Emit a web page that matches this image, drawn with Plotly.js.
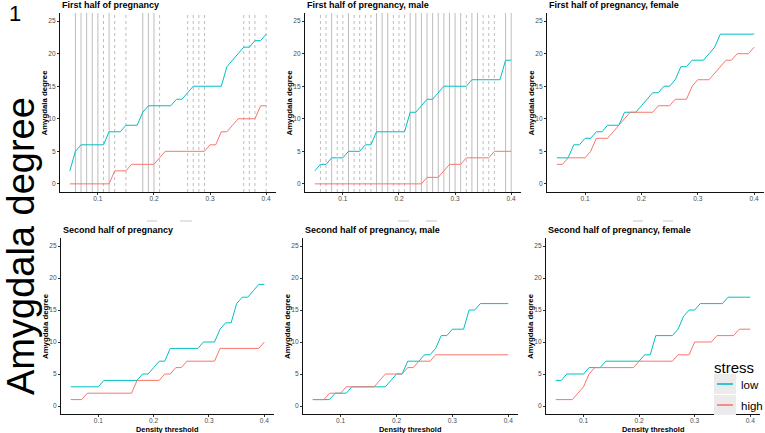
<!DOCTYPE html>
<html>
<head>
<meta charset="utf-8">
<script src="https://cdn.plot.ly/plotly-3.0.1.min.js"></script>
<style>
  html, body { margin: 0; padding: 0; background: #fff; }
  #plot { width: 765px; height: 433px; }
</style>
</head>
<body>
<div id="plot"></div>
<script>
// density thresholds (x) shared by every panel
const threshold = [0.05, 0.06, 0.07, 0.08, 0.09, 0.10, 0.11, 0.12, 0.13, 0.14, 0.15, 0.16,
                   0.17, 0.18, 0.19, 0.20, 0.21, 0.22, 0.23, 0.24, 0.25, 0.26, 0.27, 0.28,
                   0.29, 0.30, 0.31, 0.32, 0.33, 0.34, 0.35, 0.36, 0.37, 0.38, 0.39, 0.40];

const panelTitles = ["First half of pregnancy", "First half of pregnancy, male", "First half of pregnancy, female",
                     "Second half of pregnancy", "Second half of pregnancy, male", "Second half of pregnancy, female"];

// amygdala degree, low stress
const firstLow = [2,5,6,6,6,6,6,8,8,8,9,9,9,11,12,12,12,12,12,13,13,14,15,15,15,15,15,15,18,19,20,21,21,22,22,23];
const firstMaleLow = [2,3,3,4,4,4,5,5,5,6,6,8,8,8,8,8,8,11,11,12,13,13,14,15,15,15,15,15,16,16,16,16,16,16,19,19];
const firstFemaleLow = [4,4,4,6,6,7,7,8,8,9,9,9,11,11,11,12,13,14,14,15,15,16,18,18,19,19,19,20,21,23,23,23,23,23,23,23];
const secondLow = [3,3,3,3,3,3,4,4,4,4,4,4,4,5,5,6,7,7,9,9,9,9,9,9,10,10,10,12,13,13,16,17,17,18,19,19];
const secondMaleLow = [1,1,1,1,2,2,2,3,3,3,3,3,3,3,4,5,5,7,7,7,8,8,9,11,11,12,12,12,15,15,16,16,16,16,16,16];
const secondFemaleLow = [4,4,5,5,5,5,6,6,6,7,7,7,7,7,7,7,8,8,11,11,11,11,12,14,15,15,16,16,16,16,16,17,17,17,17,17];

// amygdala degree, high stress
const firstHigh = [0,0,0,0,0,0,0,0,2,2,2,3,3,3,3,3,4,5,5,5,5,5,5,5,5,6,6,8,8,9,10,10,10,10,12,12];
const firstMaleHigh = [0,0,0,0,0,0,0,0,0,0,0,0,0,0,0,0,0,0,0,0,1,1,1,2,3,3,3,4,4,4,4,4,5,5,5,5];
const firstFemaleHigh = [3,3,4,4,4,4,5,7,7,7,8,9,10,11,11,11,11,11,12,12,12,13,13,13,15,16,16,16,17,18,19,19,20,20,20,21];
const secondHigh = [1,1,1,2,2,2,2,2,2,2,2,2,4,4,4,4,4,5,5,6,6,7,7,7,7,7,7,9,9,9,9,9,9,9,9,10];
const secondMaleHigh = [1,1,1,2,2,2,3,3,3,3,3,3,4,5,5,5,5,6,6,7,7,7,8,8,8,8,8,8,8,8,8,8,8,8,8,8];
const secondFemaleHigh = [1,1,1,1,2,3,5,6,6,6,6,6,6,6,6,7,7,7,7,7,7,7,8,8,8,10,10,10,10,11,11,11,11,12,12,12];

// reference thresholds marked in the first-half panels
const firstSolid = [0.06,0.07,0.08,0.09,0.10,0.12,0.18,0.19,0.20];
const firstDashed = [0.11,0.13,0.15,0.21,0.26,0.27,0.28,0.29,0.36,0.37,0.38,0.40];
const firstMaleSolid = [0.08,0.11,0.16,0.17,0.18,0.22,0.23,0.24,0.25,0.26,0.27,0.28,0.29,0.30,0.31,0.33,0.34,0.39,0.40];
const firstMaleDashed = [0.06,0.07,0.09,0.10,0.12,0.13,0.14,0.15,0.19,0.20,0.21,0.32,0.35,0.36,0.37];

const stressLevels = ["low", "high"];

const lowSeries = [firstLow, firstMaleLow, firstFemaleLow, secondLow, secondMaleLow, secondFemaleLow];
const highSeries = [firstHigh, firstMaleHigh, firstFemaleHigh, secondHigh, secondMaleHigh, secondFemaleHigh];

const W = 765, H = 433;
const LOW_COL = "#00BFC4", HIGH_COL = "#F8766D";
const FONT = "Liberation Sans, Arial, sans-serif";

// panel boxes in pixels: [left, right, top, bottom]
const boxes = [
  [60, 276, 13, 192], [305, 521, 13, 192], [547, 764, 13, 192],
  [61, 274, 238, 414], [303, 518, 238, 414], [546, 760, 238, 414]
];

let traces = [];
let layout = {
  width: W, height: H,
  margin: { l: 0, r: 0, t: 0, b: 0 },
  paper_bgcolor: "#fff", plot_bgcolor: "#fff",
  font: { family: FONT, color: "#000" },
  showlegend: false,
  annotations: [],
  shapes: []
};

boxes.forEach((b, i) => {
  let n = i === 0 ? "" : String(i + 1);
  let xa = "x" + n, ya = "y" + n;
  layout["xaxis" + n] = {
    domain: [b[0] / W, b[1] / W], anchor: ya,
    range: [0.0325, 0.4175], tickvals: [0.1, 0.2, 0.3, 0.4], ticktext: ["0.1", "0.2", "0.3", "0.4"],
    showgrid: false, zeroline: false, showline: true, linecolor: "#111", linewidth: 1,
    ticks: "outside", ticklen: 2, tickcolor: "#333", tickwidth: 1, ticklabelstandoff: -2,
    tickfont: { size: 6.6, color: "#4d4d4d" }
  };
  layout["yaxis" + n] = {
    domain: [1 - b[3] / H, 1 - b[2] / H], anchor: xa,
    range: [-1.25, 26.25], tickvals: [0, 5, 10, 15, 20, 25],
    showgrid: false, zeroline: false, showline: true, linecolor: "#111", linewidth: 1,
    ticks: "outside", ticklen: 2, tickcolor: "#333", tickwidth: 1,
    tickfont: { size: 6.6, color: "#4d4d4d" }
  };

  traces.push({
    x: threshold, y: lowSeries[i], xaxis: xa, yaxis: ya, type: "scatter", mode: "lines",
    name: "low", line: { color: LOW_COL, width: 1 }, hoverinfo: "skip"
  });
  traces.push({
    x: threshold, y: highSeries[i], xaxis: xa, yaxis: ya, type: "scatter", mode: "lines",
    name: "high", line: { color: HIGH_COL, width: 1 }, hoverinfo: "skip"
  });

  // panel title
  layout.annotations.push({
    text: "<b>" + panelTitles[i] + "</b>", xref: "paper", yref: "paper",
    x: b[0] / W, y: 1 - (b[2] - 8) / H, xanchor: "left", yanchor: "middle",
    showarrow: false, font: { size: 9, family: FONT }
  });
  // y axis title
  layout.annotations.push({
    text: "<b>Amygdala degree</b>", xref: "paper", yref: "paper", textangle: -90,
    x: (b[0] - 16) / W, y: 1 - (b[2] + b[3]) / 2 / H, xanchor: "center", yanchor: "middle",
    showarrow: false, font: { size: 7.8, family: FONT }
  });
  // x axis title only on bottom row
  if (i >= 3) {
    layout.annotations.push({
      text: "<b>Density threshold</b>", xref: "paper", yref: "paper",
      x: (b[0] + b[1]) / 2 / W, y: 1 - 429 / H, xanchor: "center", yanchor: "middle",
      showarrow: false, font: { size: 7.4, family: FONT }
    });
  }
});

// vertical threshold marks
function vlines(xs, xa, ya, dash) {
  xs.forEach(v => {
    layout.shapes.push({
      type: "line", xref: xa, yref: ya + " domain", x0: v, x1: v, y0: 0, y1: 1,
      layer: "below", line: { color: "#bdbdbd", width: 1, dash: dash }
    });
  });
}
vlines(firstSolid, "x", "y", "solid");
vlines(firstDashed, "x", "y", "3px,3px");
vlines(firstMaleSolid, "x2", "y2", "solid");
vlines(firstMaleDashed, "x2", "y2", "3px,3px");

// faint strip remnants above bottom row
[[147, 157], [180, 192], [398, 409], [426, 437], [633, 643], [663, 673]].forEach(s => {
  layout.shapes.push({
    type: "line", xref: "paper", yref: "paper", x0: s[0] / W, x1: s[1] / W,
    y0: 1 - 221 / H, y1: 1 - 221 / H, line: { color: "#e3e3e3", width: 2 }
  });
});

// legend: title, grey key boxes, coloured keys, labels
layout.annotations.push({
  text: "stress", xref: "paper", yref: "paper", x: 712 / W, y: 1 - 367 / H,
  xanchor: "left", yanchor: "middle", showarrow: false, font: { size: 15, family: FONT }
});
[LOW_COL, HIGH_COL].forEach((col, k) => {
  let top = 374 + k * 21;
  let mid = top + 10;
  layout.shapes.push({
    type: "rect", xref: "paper", yref: "paper", x0: 714 / W, x1: 736 / W,
    y0: 1 - (top + 20) / H, y1: 1 - top / H, line: { width: 0 }, fillcolor: "#ebebeb", layer: "above"
  });
  layout.shapes.push({
    type: "line", xref: "paper", yref: "paper", x0: 717 / W, x1: 733 / W,
    y0: 1 - mid / H, y1: 1 - mid / H, line: { color: col, width: 1.6 }, layer: "above"
  });
  layout.annotations.push({
    text: stressLevels[k], xref: "paper", yref: "paper", x: 739 / W, y: 1 - (mid + 1) / H,
    xanchor: "left", yanchor: "middle", showarrow: false, font: { size: 11.5, family: FONT }
  });
});

// big left label and panel tag
layout.annotations.push({
  text: "Amygdala degree", xref: "paper", yref: "paper", textangle: -90,
  x: 21 / W, y: 1 - 246 / H, xanchor: "center", yanchor: "middle",
  showarrow: false, font: { size: 38, family: FONT }
});
layout.annotations.push({
  text: "1", xref: "paper", yref: "paper",
  x: 15 / W, y: 1 - 13 / H, xanchor: "center", yanchor: "middle",
  showarrow: false, font: { size: 22, family: FONT }
});

Plotly.newPlot("plot", traces, layout, { staticPlot: true, displayModeBar: false });
</script>
</body>
</html>
